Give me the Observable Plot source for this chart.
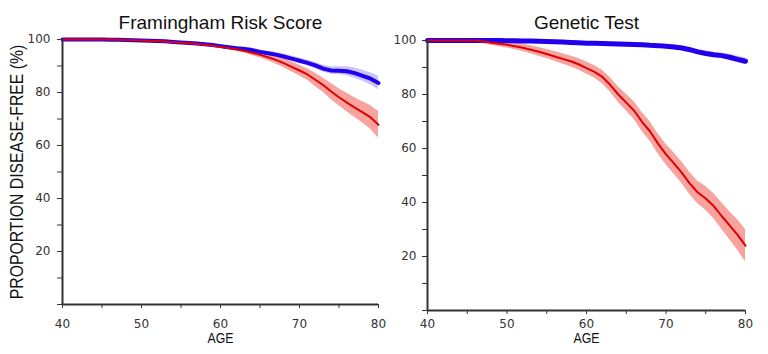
<!DOCTYPE html>
<html><head><meta charset="utf-8">
<script src="https://cdn.jsdelivr.net/npm/d3@7"></script>
<script src="https://cdn.jsdelivr.net/npm/@observablehq/plot@0.6"></script>
<style>
body{margin:0;background:#fff;}
#wrap{display:flex;width:768px;height:354px;background:#fff;}
#wrap svg{display:block;flex:none;overflow:visible;}
</style></head><body><div id="wrap"></div>
<script>
// Age grid (years)
const ages = [40,41,42,43,44,45,46,47,48,49,50,51,52,53,54,55,56,57,58,59,60,61,62,63,64,65,66,67,68,69,70,71,72,73,74,75,76,77,78,79,80];

// Framingham Risk Score panel
const framBlue = [100,100,100,100,100,100,99.9,99.9,99.8,99.7,99.6,99.5,99.4,99.3,99.1,98.9,98.7,98.5,98.2,97.9,97.5,97.1,96.7,96.4,96.0,95.3,94.8,94.3,93.6,92.8,92.0,91.2,90.2,89.0,88.3,88.2,88.0,87.3,86.3,85.2,83.6];
const framBlueCI = [0.3,0.3,0.3,0.3,0.3,0.3,0.3,0.3,0.3,0.3,0.3,0.3,0.3,0.3,0.3,0.3,0.35,0.4,0.45,0.5,0.5,0.55,0.6,0.65,0.7,0.75,0.8,0.85,0.9,0.95,1.0,1.1,1.2,1.3,1.4,1.5,1.7,1.9,2.1,2.3,2.6];
const framRed = [100,100,100,100,100,100,100,99.9,99.8,99.7,99.6,99.5,99.4,99.2,99.0,98.8,98.6,98.3,98.0,97.6,97.2,96.8,96.3,95.7,95.0,94.2,93.3,92.3,91.1,89.7,88.3,86.8,84.8,82.8,80.4,78.2,76.2,74.3,72.5,70.6,67.8];
const framRedCI = [0.3,0.3,0.3,0.3,0.3,0.3,0.3,0.3,0.3,0.3,0.3,0.3,0.3,0.3,0.3,0.3,0.35,0.4,0.45,0.5,0.5,0.6,0.7,0.8,1.0,1.2,1.3,1.5,1.7,1.9,2.0,2.2,2.5,2.7,3.0,3.2,3.5,3.7,4.0,4.5,5.0];

// Genetic Test panel
const geneBlue = [100,100,100,100,100,100,100,100,100,100,99.9,99.9,99.8,99.8,99.7,99.6,99.5,99.4,99.3,99.2,99.0,99.0,98.9,98.8,98.7,98.6,98.5,98.4,98.2,98.1,97.9,97.6,97.2,96.6,95.8,95.2,94.7,94.4,93.8,93.0,92.3];
const geneBlueCI = [0.3,0.3,0.3,0.3,0.3,0.3,0.3,0.3,0.3,0.3,0.3,0.3,0.3,0.3,0.3,0.3,0.3,0.3,0.3,0.3,0.35,0.4,0.4,0.45,0.45,0.5,0.5,0.55,0.6,0.6,0.65,0.7,0.75,0.8,0.85,0.9,0.95,1.0,1.1,1.2,1.3];
const geneRed = [100,100,100,100,100,100,100,99.6,99.2,98.8,98.4,97.9,97.3,96.6,95.8,95.0,94.1,93.2,92.3,91.2,89.8,88.4,86.5,83.5,80.0,77.0,74.0,69.8,66.3,61.8,57.8,54.5,51.0,47.0,43.7,41.5,38.7,35.0,31.5,28.0,24.0];
const geneRedCI = [0.3,0.3,0.3,0.3,0.3,0.3,0.3,0.8,1.0,1.1,1.2,1.3,1.4,1.5,1.6,1.7,1.8,1.9,2.0,2.1,2.2,2.3,2.5,2.7,2.9,3.1,3.3,3.5,3.6,3.7,3.8,3.9,4.0,4.1,4.2,4.4,4.6,4.9,5.2,5.6,6.0];

// Axis ticks and texts
const xTicks = [40,45,50,55,60,65,70,75,80];
const yTicks = [0,10,20,30,40,50,60,70,80,90,100];
const titles = ["Framingham Risk Score", "Genetic Test"];
const xLabel = "AGE";
const yLabel = "PROPORTION DISEASE-FREE (%)";

// Horizontally condense a text element along its own reading direction
function condense(svg, str, k) {
  svg.querySelectorAll("text").forEach(t => {
    if (t.textContent.trim() === str) {
      const tr = t.getAttribute("transform") || "";
      t.setAttribute("transform", tr + ` scale(${k},1)`);
    }
  });
}

function panel(o) {
  const rows = ages.map((a, i) => ({
    age: a,
    b: o.blue[i], bl: o.blue[i] - o.blueCI[i], bh: Math.min(100.3, o.blue[i] + o.blueCI[i]),
    r: o.red[i], rl: o.red[i] - o.redCI[i], rh: Math.min(100.3, o.red[i] + o.redCI[i])
  }));
  const marks = [
    Plot.areaY(rows, {x: "age", y1: "bl", y2: "bh", fill: "#c9c3ff"}),
    Plot.areaY(rows, {x: "age", y1: "rl", y2: "rh", fill: "#f7a3a0"}),
    Plot.line(rows, {x: "age", y: "b", stroke: "#2200ee", strokeWidth: o.bw}),
    Plot.line(rows, {x: "age", y: "r", stroke: "#e00000", strokeWidth: 2}),
    Plot.axisX({ticks: xTicks, tickFormat: d => d % 10 === 0 ? String(d) : "", tickSize: 4, tickPadding: o.xPad, label: null, fontSize: 12, color: "#333", fontFamily: "DejaVu Sans"}),
    Plot.axisY({ticks: yTicks, tickFormat: d => (d % 20 === 0 && d > 0) ? String(d) : "", tickSize: 5, tickPadding: o.yPad, label: null, fontSize: 12, color: "#333", fontFamily: "DejaVu Sans"}),
    Plot.ruleX([40], {stroke: "#333", strokeWidth: 2}),
    Plot.ruleY([0], {stroke: "#333", strokeWidth: 2}),
    Plot.text([o.title], {frameAnchor: "top", dy: 15 - o.mt, fontSize: 19, fontFamily: "Liberation Sans", fill: "#111"}),
    Plot.text([xLabel], {frameAnchor: "bottom", dy: o.ageDy, fontSize: 14, fontFamily: "Liberation Sans", fill: "#111"})
  ];
  if (o.showY) {
    marks.push(Plot.text([yLabel], {frameAnchor: "left", textAnchor: "middle", rotate: -90, dx: 16 - o.ml, fontSize: 19, fontFamily: "Liberation Sans", fill: "#111"}));
  }
  const svg = Plot.plot({
    width: 384, height: 354,
    marginLeft: o.ml, marginRight: o.mr, marginTop: o.mt, marginBottom: o.mb,
    x: {domain: [40, 80]}, y: {domain: [0, 100]},
    style: {fontFamily: "DejaVu Sans", fontSize: "12px", color: "#333", background: "none", overflow: "visible"},
    marks
  });
  condense(svg, xLabel, 0.88);
  if (o.showY) condense(svg, yLabel, 0.83);
  return svg;
}

const wrap = document.getElementById("wrap");
wrap.append(panel({blue: framBlue, blueCI: framBlueCI, red: framRed, redCI: framRedCI, title: titles[0],
  ml: 62, mr: 6, mt: 39, mb: 50, xPad: 11, yPad: 7, bw: 4, ageDy: 38, showY: true}));
wrap.append(panel({blue: geneBlue, blueCI: geneBlueCI, red: geneRed, redCI: geneRedCI, title: titles[1],
  ml: 43, mr: 23, mt: 40, mb: 44, xPad: 5, yPad: 6, bw: 5, ageDy: 32, showY: false}));
</script>
</body></html>
